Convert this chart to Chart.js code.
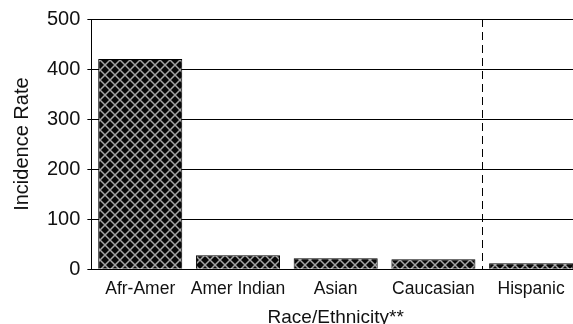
<!DOCTYPE html>
<html>
<head>
<meta charset="utf-8">
<script src="https://cdn.jsdelivr.net/npm/chart.js@4/dist/chart.umd.min.js"></script>
<style>
  html, body { margin: 0; padding: 0; background: #fff; overflow: hidden; }
  #wrap { width: 580px; height: 329px; }
</style>
</head>
<body>
<div id="wrap"><canvas id="chart"></canvas></div>
<script>
const categories = ["Afr-Amer", "Amer Indian", "Asian", "Caucasian", "Hispanic"];
const rates = [420, 28, 22, 20, 12];
const yTicks = [0, 100, 200, 300, 400, 500];

// crosshatch fill like the old excel pattern
function hatch() {
    const c = document.createElement("canvas");
    c.width = 10; c.height = 10;
    const g = c.getContext("2d");
    g.fillStyle = "#080808";
    g.fillRect(0, 0, 10, 10);
    g.strokeStyle = "#a4a4a4";
    g.lineWidth = 1.5;
    g.beginPath();
    g.moveTo(-1, -1); g.lineTo(11, 11);
    g.moveTo(-1, 11); g.lineTo(11, -1);
    g.stroke();
    return g.createPattern(c, "repeat");
}

// dashed divider between Caucasian and Hispanic
const divider = {
    id: "divider",
    afterDatasetsDraw(chart) {
        const x = chart.scales.x;
        const a = chart.chartArea;
        const px = Math.round((x.getPixelForValue(3) + x.getPixelForValue(4)) / 2) + 0.5;
        const ctx = chart.ctx;
        ctx.save();
        ctx.strokeStyle = "#000";
        ctx.lineWidth = 1;
        ctx.setLineDash([8, 5]);
        ctx.beginPath();
        ctx.moveTo(px, a.top);
        ctx.lineTo(px, a.bottom);
        ctx.stroke();
        ctx.restore();
    }
};

Chart.defaults.font.family = "'Liberation Sans', Arial, sans-serif";
Chart.defaults.color = "#111";

new Chart("chart", {
    type: "bar",
    data: {
        labels: categories,
        datasets: [{
            data: rates,
            backgroundColor: hatch(),
            borderColor: "#000",
            borderWidth: 1,
            barPercentage: 0.86,
            categoryPercentage: 1
        }]
    },
    options: {
        responsive: true,
        maintainAspectRatio: false,
        animation: false,
        layout: { padding: { top: 14, right: 0, left: 0, bottom: 0 } },
        plugins: {
            legend: { display: false },
            tooltip: { enabled: false }
        },
        scales: {
            x: {
                grid: { display: false },
                border: { display: true, color: "#000", width: 1 },
                ticks: { font: { size: 17.5 }, padding: 1, maxRotation: 0, autoSkip: false },
                title: {
                    display: true,
                    text: "Race/Ethnicity**",
                    font: { size: 19 },
                    padding: { top: 6, bottom: 0 }
                }
            },
            y: {
                min: 0,
                max: 500,
                afterBuildTicks(s) { s.ticks = yTicks.map(v => ({ value: v })); },
                grid: { color: "#000", lineWidth: 1, tickLength: 4 },
                border: { display: true, color: "#000", width: 1 },
                ticks: { font: { size: 20 }, padding: 7 },
                title: {
                    display: true,
                    text: "Incidence Rate",
                    font: { size: 20 },
                    padding: { top: 10, bottom: 6 }
                }
            }
        }
    },
    plugins: [divider]
});
</script>
</body>
</html>
